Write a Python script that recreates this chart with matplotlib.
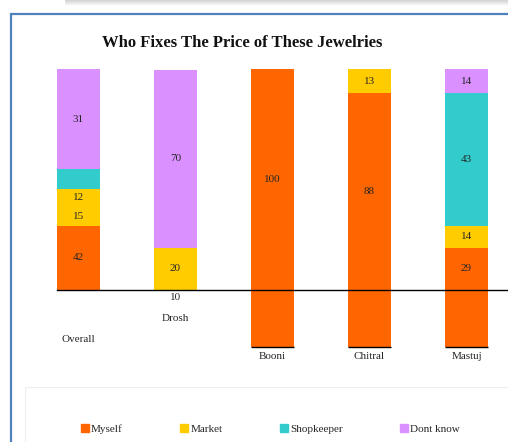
import matplotlib.pyplot as plt
from matplotlib.patches import Rectangle, Patch
import numpy as np

plt.rcParams['font.family'] = ['Liberation Serif', 'DejaVu Serif']

categories = ['Overall', 'Drosh', 'Booni', 'Chitral', 'Mastuj']

# segment heights as they are drawn in the original (its axis is distorted,
# the printed labels do not match the drawn heights)
base = [0, 0, -25.8, -25.8, -25.8]
myself = [29.0, 0, 125.8, 114.9, 44.9]
market = [8.6, 19.1, 0, 10.9, 10.0]
market_extra = [8.1, 0, 0, 0, 0]
shopkeeper = [9.0, 0, 0, 0, 60.0]
dont_know = [45.2, 80.4, 0, 0, 10.9]

# printed data labels
myself_lbl = ['42', '10', '100', '88', '29']
market_lbl = ['15', '20', '', '13', '14']
market_extra_lbl = ['12', '', '', '', '']
shopkeeper_lbl = ['', '', '', '', '43']
dont_know_lbl = ['31', '70', '', '', '14']

cat_label_y = [-22.2, -12.7, -30.3, -30.3, -30.3]

c_myself = '#FF6600'
c_market = '#FFCC00'
c_shop = '#33CCCC'
c_dont = '#DA91FF'

W, H = 508, 442
fig = plt.figure(figsize=(W / 100, H / 100), dpi=100)

# outer chart frame (cut by the screenshot)
fig.patches.append(Rectangle((11 / W, -0.2), 1.2, 1.2 - 14 / H, transform=fig.transFigure,
                             fill=False, ec='#4F81BD', lw=1.6))
# faint legend box
fig.patches.append(Rectangle((25 / W, -0.2), 1.2, 0.2 + (H - 387) / H, transform=fig.transFigure,
                             fc='white', ec='#eeeeee', lw=0.8))
# shadow at the very top
sh = fig.add_axes([65 / W, 1 - 6 / H, 1 - 65 / W, 6 / H])
sh.imshow(np.linspace(0.82, 1.0, 20).reshape(-1, 1), cmap='gray', vmin=0, vmax=1,
          aspect='auto', extent=[0, 1, 0, 1])
sh.axis('off')

# axes placed so that 0 sits on the drawn axis line
ax = fig.add_axes([30 / W, 1 - 370 / H, 1 - 30 / W, 310 / H])
x = np.arange(len(categories))
w = 0.443

series = [
    (myself, myself_lbl, c_myself),
    (market, market_lbl, c_market),
    (market_extra, market_extra_lbl, c_market),
    (shopkeeper, shopkeeper_lbl, c_shop),
    (dont_know, dont_know_lbl, c_dont),
]

bottom = np.array(base, dtype=float)
for vals, lbls, col in series:
    vals = np.array(vals, dtype=float)
    ax.bar(x, vals, w, bottom=bottom, color=col, linewidth=0)
    for i in range(len(x)):
        if lbls[i] == '':
            continue
        lo = max(bottom[i], 0)
        hi = bottom[i] + vals[i]
        yy = (lo + hi) / 2 if hi > lo else -3.2
        ax.text(x[i], yy, lbls[i], ha='center', va='center', fontsize=8, color='#262626')
    bottom = bottom + vals

for i in range(len(x)):
    if base[i] < 0:
        ax.hlines(base[i], x[i] - w / 2, x[i] + w / 2, color='black', lw=1)
    ax.text(x[i], cat_label_y[i], categories[i], ha='center', va='center',
            fontsize=8, color='#262626')

ax.set_xlim((30 - 78.5) / 97, (W - 78.5) / 97)
ax.set_ylim((290 - 370) / 2.21, (290 - 60) / 2.21)
for s in ['top', 'left', 'right']:
    ax.spines[s].set_visible(False)
ax.spines['bottom'].set_position(('data', 0))
ax.spines['bottom'].set_bounds(-w / 2, ax.get_xlim()[1])
ax.spines['bottom'].set_linewidth(1)
ax.set_xticks([])
ax.set_yticks([])
ax.patch.set_alpha(0)

fig.text(242.5 / W, 1 - 43 / H, 'Who Fixes The Price of These Jewelries',
         ha='center', va='center', fontsize=12, fontweight='bold', color='#111111')

handles = [Patch(color=c_myself), Patch(color=c_market), Patch(color=c_shop), Patch(color=c_dont)]
fig.legend(handles, ['Myself', 'Market', 'Shopkeeper', 'Dont know'],
           loc='center', bbox_to_anchor=(270.5 / W, 1 - 429 / H), ncol=4, frameon=False,
           fontsize=8, handlelength=0.7, handleheight=0.7, handletextpad=0.2,
           columnspacing=5.2, labelcolor='#262626')

fig.savefig('out.png', dpi=100)
